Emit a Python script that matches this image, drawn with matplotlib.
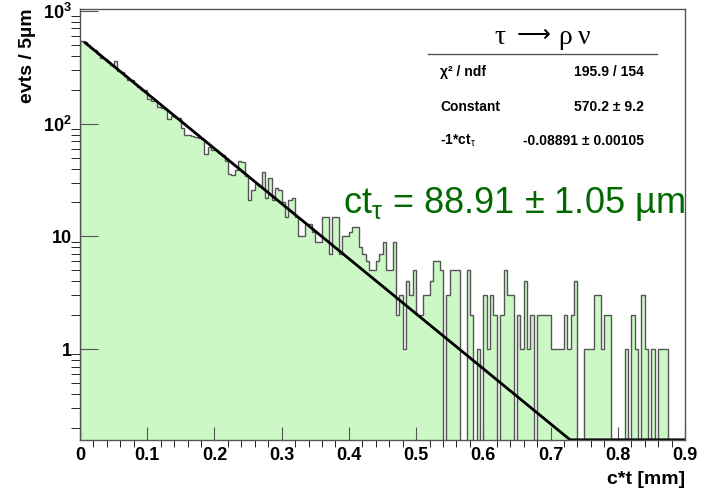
import numpy as np
import matplotlib.pyplot as plt
from matplotlib.lines import Line2D
from matplotlib.ticker import FixedLocator, NullFormatter

plt.rcParams['font.family'] = ['Liberation Sans', 'DejaVu Sans']
plt.rcParams['mathtext.fontset'] = 'custom'
plt.rcParams['mathtext.rm'] = 'Liberation Sans'
plt.rcParams['mathtext.it'] = 'Liberation Sans:italic'
plt.rcParams['mathtext.bf'] = 'Liberation Sans:bold'

# events per 5 um bin, 0 - 0.9 mm
counts = [545, 535, 500, 470, 450, 415, 380, 378, 350, 330,
          360, 293, 290, 265, 245, 243, 227, 210, 200, 198,
          165, 160, 158, 141, 137, 136, 111, 116, 115, 113,
          91, 80, 79, 78, 76, 74, 73, 54, 62, 58,
          58, 55, 53, 47, 36, 35, 39, 47, 46, 34,
          21, 26, 29, 28, 37, 22, 33, 21, 27, 26,
          20, 15, 21, 22, 15, 10, 10, 13, 13, 11,
          9, 9, 15, 15, 7, 15, 15, 7, 10, 10,
          11, 12, 12, 8, 7, 6, 5, 5, 6, 7,
          9, 5, 5, 9, 2, 3, 1, 4, 3, 5,
          2, 2, 3, 3, 4, 6, 6, 5, 0, 3,
          5, 5, 5, 0, 0, 5, 2, 0, 1, 0,
          3, 1, 3, 2, 0, 2, 5, 3, 3, 0,
          2, 1, 4, 1, 2, 0, 2, 2, 2, 2,
          1, 1, 1, 1, 2, 1, 2, 4, 0, 0,
          1, 1, 1, 3, 3, 1, 2, 2, 0, 0,
          0, 0, 1, 0, 2, 1, 0, 3, 1, 0,
          1, 0, 1, 1, 1, 0, 0, 0, 0, 0]
bin_width = 0.005

# fit result: Constant * exp(-x / ct)
fit_const = 570.2
fit_ct = 0.08891

ymin, ymax = 0.156, 1035

counts = np.array(counts, dtype=float)
edges = np.arange(len(counts) + 1) * bin_width

fig = plt.figure(figsize=(7.02, 4.91), dpi=100)
ax = fig.add_axes([80/702, 1 - 440/491, 605/702, 430.7/491])
ax.set_yscale('log')
ax.set_xlim(0, 0.9)
ax.set_ylim(ymin, ymax)

# histogram, empty bins drawn down to the axis
draw = np.where(counts > 0, counts, ymin * 0.5)
ax.stairs(draw, edges, baseline=ymin * 0.5, fill=True, color='#ccf8c6', lw=0)
ax.stairs(draw, edges, baseline=ymin * 0.5, color='#555555', lw=1)

# fit function
xf = np.linspace(0.0075, 0.9, 600)
yf = np.maximum(fit_const * np.exp(-xf / fit_ct), ymin * 1.004)
ax.plot(xf, yf, color='black', lw=2)

# axes style
for s in ax.spines.values():
    s.set_color('#555555')
    s.set_linewidth(1)
ax.xaxis.set_major_locator(FixedLocator(np.arange(0, 0.91, 0.1)))
ax.xaxis.set_minor_locator(FixedLocator(np.arange(0, 0.91, 0.02)))
ax.set_xticklabels(['0', '0.1', '0.2', '0.3', '0.4', '0.5', '0.6', '0.7', '0.8', '0.9'])
ax.yaxis.set_major_locator(FixedLocator([1, 10, 100, 1000]))
ax.set_yticklabels(['1', '10', r'$\mathbf{10^{2}}$', r'$\mathbf{10^{3}}$'])
ax.yaxis.set_minor_formatter(NullFormatter())
ax.tick_params(direction='in', top=False, right=False, color='#555555',
               labelsize=13)
ax.xaxis.set_tick_params(which='major', length=9.5, pad=5)
ax.xaxis.set_tick_params(which='minor', length=5)
ax.yaxis.set_tick_params(which='major', length=13, pad=6)
ax.yaxis.set_tick_params(which='minor', length=6.5)
for lab in ax.get_xticklabels() + ax.get_yticklabels():
    lab.set_fontweight('bold')

fig.text(27/702, 1 - 8/491, 'evts / 5µm', rotation=90, ha='center', va='top',
         fontsize=14, fontweight='bold')
fig.text(685/702, 1 - 480/491, 'c*t [mm]', ha='right', va='center',
         fontsize=14, fontweight='bold')

# stats box title: tau -> rho nu
serif = ['Liberation Serif', 'DejaVu Serif']
fig.text(500/702, 1 - 37/491, 'τ', ha='center', va='center', fontsize=20, family=serif)
fig.text(534/702, 1 - 35/491, '⟶', ha='center', va='center', fontsize=17,
         family=['DejaVu Sans'])
fig.text(565/702, 1 - 37/491, 'ρ', ha='center', va='center', fontsize=20, family=serif)
fig.text(584/702, 1 - 37/491, 'ν', ha='center', va='center', fontsize=20, family=serif)
fig.add_artist(Line2D([428/702, 657/702], [1 - 54/491, 1 - 54/491],
                      color='#555555', lw=1))
rows = [('χ² / ndf', '195.9 / 154'),
        ('Constant', '570.2 ± 9.2'),
        (r'-1*ct$_{\mathrm{\tau}}$', '-0.08891 ± 0.00105')]
for (name, val), yy in zip(rows, [72, 107, 141]):
    fig.text(440/702, 1 - yy/491, name, ha='left', va='center', fontsize=10,
             fontweight='bold')
    fig.text(644/702, 1 - yy/491, val, ha='right', va='center', fontsize=10,
             fontweight='bold')

fig.text(343/702, 1 - 213/491, r'ct$_{\mathrm{\tau}}$ = 88.91 ± 1.05 µm',
         ha='left', va='baseline', fontsize=26, color='#006a00')

fig.savefig('out.png', dpi=100)
